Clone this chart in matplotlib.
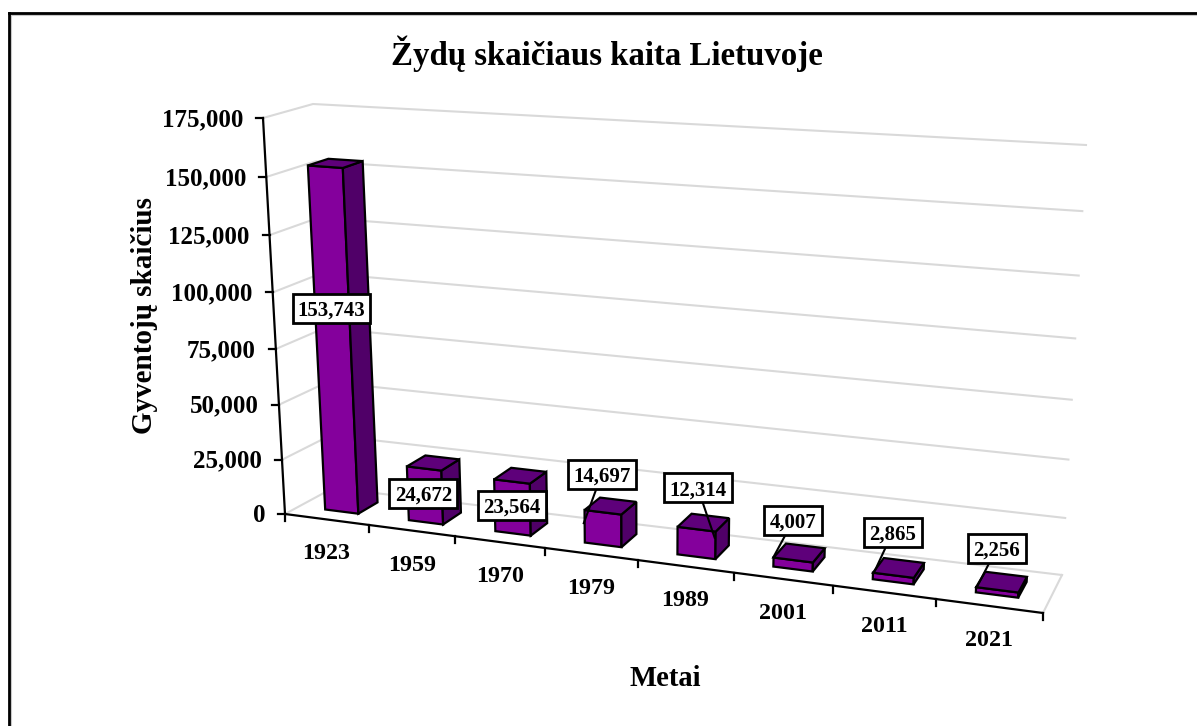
import numpy as np
import matplotlib
matplotlib.use("Agg")
import matplotlib.pyplot as plt
from matplotlib.patches import Polygon, Rectangle

# ---- data ----
years = ["1923", "1959", "1970", "1979", "1989", "2001", "2011", "2021"]
population = [153743, 24672, 23564, 14697, 12314, 4007, 2865, 2256]
value_ticks = [0, 25000, 50000, 75000, 100000, 125000, 150000, 175000]
title_text = "Žydų skaičiaus kaita Lietuvoje"
x_title = "Metai"
y_title = "Gyventojų skaičius"

# ---- scene layout (pixel positions of the chart box corners) ----
V_MAX = 175000.0
FLB, FLT = (285, 514), (263, 118)
BLB, BLT = (333, 488), (313, 104)
FRB, FRT = (1043, 613), (1068, 170)
BRB, BRT = (1062, 575), (1086, 145)
C = np.array([[[FLB, FLT], [BLB, BLT]], [[FRB, FRT], [BRB, BRT]]], float)
R_U = 1.15
BAR_HALF = 0.2
BAR_SHIFT = 0.015
W0, W1 = 0.30, 0.72

FRONT, SIDE, TOP = "#84009C", "#500068", "#5E007A"
GRID = "#D9D9D9"
SERIF = "Liberation Serif"


def warp(t, r):
    return t / (t + (1 - t) * r)


def project(cat, val, w):
    """cat: category position 0..n, val: data value, w: depth 0..1."""
    u = warp(cat / len(years), R_U)
    rv = 1.05 + 0.04 * u
    v = warp(val / V_MAX, rv)
    p = (C[0, 0, 0] * (1 - w) + C[0, 1, 0] * w) * (1 - v) + (C[0, 0, 1] * (1 - w) + C[0, 1, 1] * w) * v
    q = (C[1, 0, 0] * (1 - w) + C[1, 1, 0] * w) * (1 - v) + (C[1, 0, 1] * (1 - w) + C[1, 1, 1] * w) * v
    return p * (1 - u) + q * u


fig = plt.figure(figsize=(11.97, 7.26), dpi=100, facecolor="white")
ax = fig.add_axes([0, 0, 1, 1])
ax.set_xlim(0, 1197)
ax.set_ylim(726, 0)
ax.axis("off")

# outer frame: only the top and left edges fall inside the picture
ax.plot([10.5, 1197], [15, 15], color="#C8C8C8", lw=1.5, zorder=1)
ax.plot([10.5, 10.5], [15, 726], color="#C8C8C8", lw=1.5, zorder=1)
ax.plot([9, 1197], [13, 13], color="black", lw=2.0, zorder=2)
ax.plot([9, 9], [13, 726], color="black", lw=2.0, zorder=2)

# gridlines on side wall and back wall, floor edge
n = len(years)
for val in value_ticks:
    pts = np.array([project(0, val, 0), project(0, val, 1), project(n, val, 1)])
    ax.plot(pts[:, 0], pts[:, 1], color=GRID, lw=1.5, zorder=3, solid_joinstyle="round")
pts = np.array([project(n, 0, 1), project(n, 0, 0)])
ax.plot(pts[:, 0], pts[:, 1], color=GRID, lw=1.5, zorder=3)

# axes
pts = np.array([project(0, V_MAX, 0), project(0, 0, 0), project(n, 0, 0)])
ax.plot(pts[:, 0], pts[:, 1], color="black", lw=1.6, zorder=4, solid_joinstyle="miter")
for val in value_ticks:
    x, y = project(0, val, 0)
    ax.plot([x - 7, x], [y, y], color="black", lw=1.6, zorder=4)
    ax.text(x - 20, y - 1, f"{val:,}", ha="right", va="center_baseline", family=SERIF, weight="bold",
            fontsize=18, color="black", zorder=4)
for i in range(n + 1):
    x, y = project(i, 0, 0)
    ax.plot([x, x], [y, y + 7], color="black", lw=1.6, zorder=4)
for i, lab in enumerate(years):
    x, y = project(i + 0.5, 0, 0)
    ax.text(x, y + 32, lab, ha="center", va="center_baseline", family=SERIF, weight="bold",
            fontsize=17.3, color="black", zorder=4)

# bars
for i, val in enumerate(population):
    a, b = i + 0.5 - BAR_HALF + BAR_SHIFT, i + 0.5 + BAR_HALF + BAR_SHIFT
    faces = [
        ([project(a, 0, W0), project(b, 0, W0), project(b, val, W0), project(a, val, W0)], FRONT),
        ([project(b, 0, W0), project(b, 0, W1), project(b, val, W1), project(b, val, W0)], SIDE),
        ([project(a, val, W0), project(b, val, W0), project(b, val, W1), project(a, val, W1)], TOP),
    ]
    for poly, col in faces:
        ax.add_patch(Polygon(poly, closed=True, facecolor=col, edgecolor="black", lw=1.6,
                             joinstyle="miter", zorder=5 + i * 0.01))

# data labels: box centre and leader end, both as offsets from the bar's top centre
label_offset = [(-2, 145), (-8, 30), (-7, 29.5), (-7, -32), (-4, -35), (-4, -33), (-4, -36), (-3, -34)]
leader_end = [None, None, None, (-25, 17), (13, 15), (-24, 4), (-23, 5), (-23, 5)]
box_w = [77, 68, 68, 68, 68, 58, 58, 58]
box_h = 29
for i, val in enumerate(population):
    cx, cy = project(i + 0.5, val, 0.5)
    lx, ly = cx + label_offset[i][0], cy + label_offset[i][1]
    w = box_w[i]
    if leader_end[i] is not None:
        ax.plot([lx, cx + leader_end[i][0]], [ly, cy + leader_end[i][1]],
                color="black", lw=1.5, zorder=6)
    ax.add_patch(Rectangle((lx - w / 2, ly - box_h / 2), w, box_h, facecolor="white",
                           edgecolor="black", lw=2.0, zorder=7))
    ax.text(lx, ly, f"{val:,}", ha="center", va="center_baseline", family=SERIF, weight="bold",
            fontsize=15, color="black", zorder=8)

# titles
ax.text(606.5, 54, title_text, ha="center", va="center", family=SERIF, weight="bold",
        fontsize=23.7, color="black")
ax.text(665, 678, x_title, ha="center", va="center", family=SERIF, weight="bold",
        fontsize=20.6, color="black")
ax.text(145, 315, y_title, ha="center", va="center", rotation=90, family=SERIF, weight="bold",
        fontsize=21, color="black")

fig.savefig("out.png", dpi=100)
